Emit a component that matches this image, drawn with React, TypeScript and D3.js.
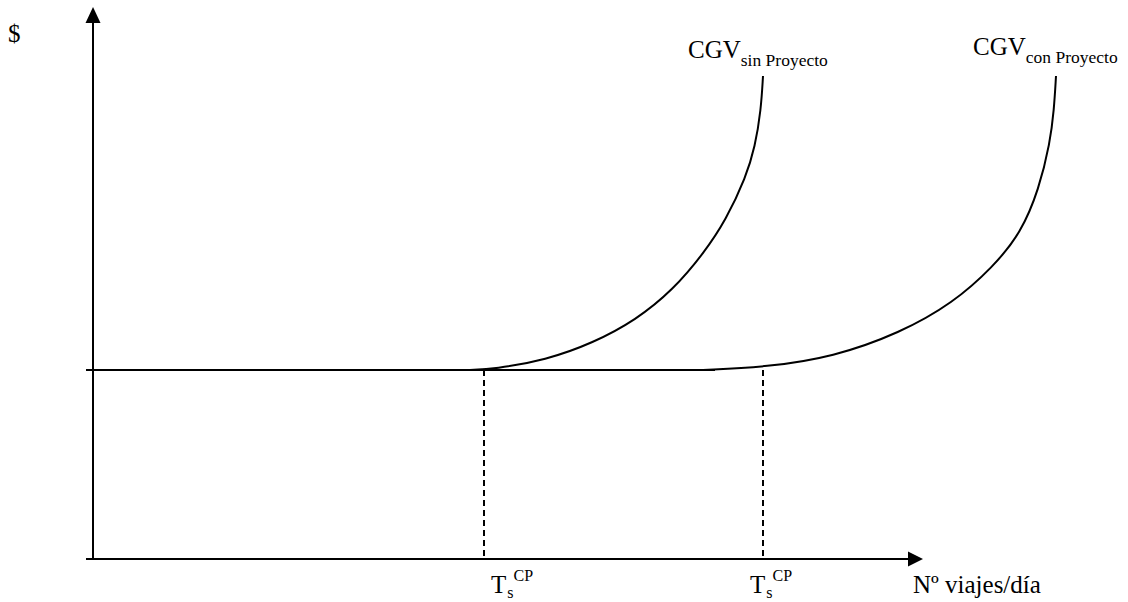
import React, { useRef, useEffect } from 'react';
import * as d3 from 'd3';

// values (x: viajes/día, y: $), arbitrary units
const cgvLevel = 189;
const baseline: [number, number][] = [[-7, 189], [622, 189]];
const sinProyecto: [number, number][] = [
    [377, 189], [401, 190], [453, 199], [500, 216], [543, 239], [580, 269],
    [611, 306], [633, 339], [653, 382], [662, 412], [668, 449], [670, 483],
];
const conProyecto: [number, number][] = [
    [610, 189], [674, 192], [740, 202], [807, 226], [860, 256], [900, 292],
    [928, 326], [946, 370], [957, 416], [961, 449], [963, 483],
];
const tsValues = [391, 670];
const curveLabels = ['sin Proyecto', 'con Proyecto'];
const xAxisLabel = 'Nº viajes/día';
const yAxisLabel = '$';

const FONT = "'Liberation Serif', 'Times New Roman', Tinos, 'DejaVu Serif', serif";

function App(): React.ReactElement {
    const ref = useRef<SVGSVGElement | null>(null);

    useEffect(() => {
        if (!ref.current) return;
        const svg = d3.select(ref.current);
        svg.selectAll('*').remove();

        const x = d3.scaleLinear().domain([0, 830]).range([93, 923]);
        const y = d3.scaleLinear().domain([0, 552]).range([559, 7]);

        const line = d3
            .line<[number, number]>()
            .x(d => x(d[0]))
            .y(d => y(d[1]))
            .curve(d3.curveBasis);

        // axes
        svg.append('line')
            .attr('x1', x(0)).attr('x2', x(0))
            .attr('y1', y(0)).attr('y2', y(536))
            .attr('stroke', '#000').attr('stroke-width', 2);
        svg.append('path')
            .attr('d', `M${x(0)},${y(552)}L${x(0) - 7.5},${y(536)}L${x(0) + 7.5},${y(536)}Z`)
            .attr('fill', '#000');

        svg.append('line')
            .attr('x1', x(-7)).attr('x2', x(815))
            .attr('y1', y(0)).attr('y2', y(0))
            .attr('stroke', '#000').attr('stroke-width', 2);
        svg.append('path')
            .attr('d', `M${x(830)},${y(0)}L${x(815)},${y(0) - 7.5}L${x(815)},${y(0) + 7.5}Z`)
            .attr('fill', '#000');

        // dashed drop lines
        svg.selectAll('line.ts')
            .data(tsValues)
            .join('line')
            .attr('class', 'ts')
            .attr('x1', d => x(d)).attr('x2', d => x(d))
            .attr('y1', y(cgvLevel)).attr('y2', y(0))
            .attr('stroke', '#000').attr('stroke-width', 2)
            .attr('stroke-dasharray', '6,4');

        // curves
        [baseline, sinProyecto, conProyecto].forEach(pts => {
            svg.append('path')
                .attr('d', line(pts) ?? '')
                .attr('fill', 'none')
                .attr('stroke', '#000')
                .attr('stroke-width', 2);
        });

        const txt = () => svg.append('text').style('font-family', FONT).style('font-size', '25px');

        // curve labels
        const tops = [sinProyecto[sinProyecto.length - 1], conProyecto[conProyecto.length - 1]];
        const labelOffsets = [[-75, -18], [-83, -21]];
        tops.forEach((p, i) => {
            const t = txt()
                .attr('x', x(p[0]) + labelOffsets[i][0])
                .attr('y', y(p[1]) + labelOffsets[i][1])
                .text('CGV');
            t.append('tspan')
                .attr('dy', 8)
                .style('font-size', '17.5px')
                .text(curveLabels[i]);
        });

        // Ts labels
        const tsOffsets = [7, -13];
        tsValues.forEach((v, i) => {
            const t = txt()
                .attr('x', x(v) + tsOffsets[i])
                .attr('y', y(0) + 34)
                .text('T');
            t.append('tspan').attr('dy', 5).attr('dx', 1).style('font-size', '16px').text('s');
            t.append('tspan').attr('dy', -17).style('font-size', '16px').text('CP');
        });

        txt().attr('x', 913).attr('y', y(0) + 34).text(xAxisLabel);
        txt().attr('x', 8).attr('y', 42).text(yAxisLabel);
    }, []);

    return (
        <svg
            ref={ref}
            width={1128}
            height={602}
            style={{ position: 'absolute', left: 0, top: 0, background: '#fff' }}
        />
    );
}

export default App;
